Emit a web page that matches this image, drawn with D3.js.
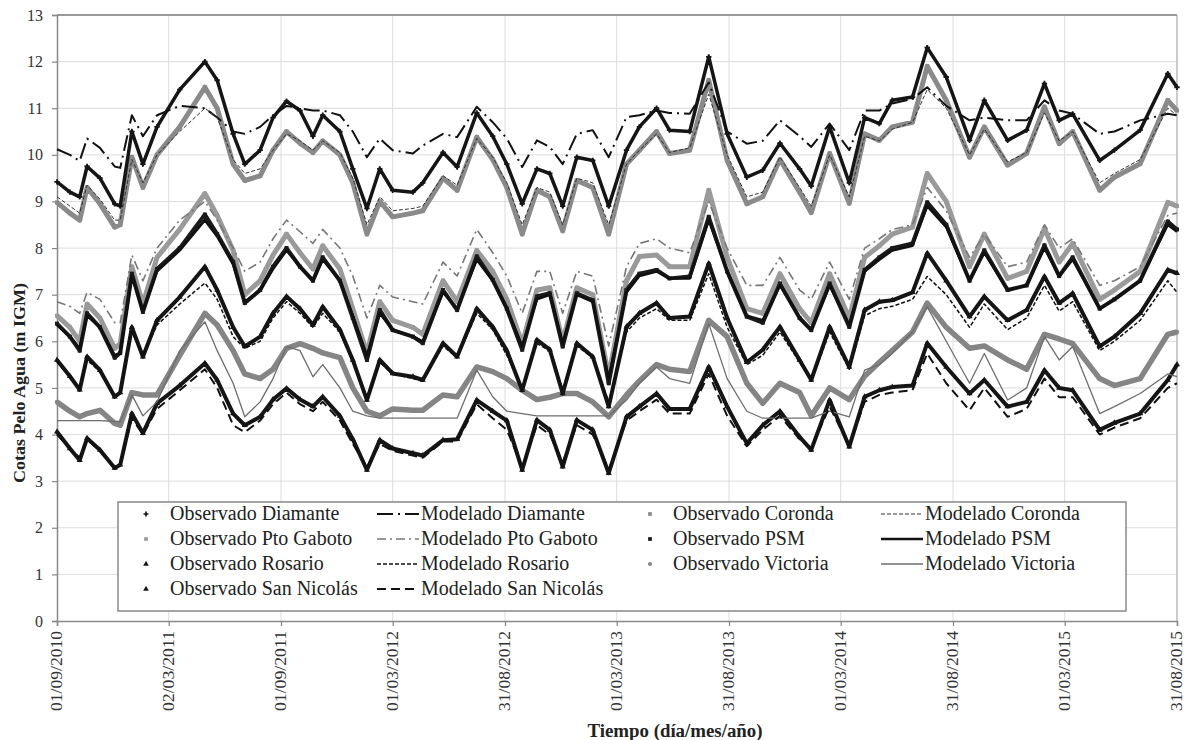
<!DOCTYPE html>
<html><head><meta charset="utf-8">
<script src="https://cdn.jsdelivr.net/npm/d3@7"></script>
<style>body{margin:0;background:#fff}svg{display:block}svg text{font-family:"Times New Roman",Times,"Liberation Serif",Tinos,"Noto Serif","DejaVu Serif",FreeSerif,serif}</style>
</head><body>
<svg id="c" width="1185" height="740"></svg>
<script>
// ---- DATA ----
const dates = ["2010-09-01","2010-09-22","2010-10-08","2010-10-20","2010-11-10","2010-12-04","2010-12-13","2011-01-01","2011-01-19","2011-02-11",
"2011-03-20","2011-04-30","2011-05-20","2011-06-15","2011-07-04","2011-07-29","2011-08-19","2011-09-10","2011-10-02","2011-10-23",
"2011-11-08","2011-12-06","2011-12-27","2012-01-19","2012-02-09","2012-03-01","2012-04-03","2012-04-19","2012-05-22","2012-06-14",
"2012-07-16","2012-08-11","2012-09-03","2012-09-28","2012-10-22","2012-11-12","2012-12-03","2012-12-26","2013-01-21","2013-02-16",
"2013-03-17","2013-04-07","2013-05-05","2013-05-26","2013-06-28","2013-07-29","2013-08-28","2013-09-29","2013-10-25","2013-11-22",
"2013-12-24","2014-01-12","2014-02-11","2014-03-15","2014-04-09","2014-05-03","2014-05-24","2014-06-26","2014-07-20","2014-08-20",
"2014-09-27","2014-10-21","2014-11-28","2014-12-29","2015-01-27","2015-02-20","2015-03-14","2015-04-27","2015-05-21","2015-07-02",
"2015-08-16","2015-08-31"];

const obsDiamante = [9.42,9.2,9.1,9.75,9.5,8.95,8.9,10.5,9.8,10.6,11.4,12.0,11.6,10.45,9.8,10.1,10.8,11.15,10.95,10.4,
10.85,10.5,9.7,8.85,9.7,9.24,9.2,9.4,10.05,9.74,10.9,10.4,9.8,8.95,9.7,9.6,8.9,9.95,9.88,8.9,
10.1,10.6,11.0,10.53,10.5,12.1,10.45,9.52,9.67,10.25,9.7,9.33,10.6,9.4,10.8,10.67,11.17,11.24,12.3,11.67,
10.31,11.17,10.31,10.53,11.53,10.74,10.88,9.88,10.1,10.53,11.74,11.45];
const modDiamante = [10.12,10.0,9.87,10.35,10.15,9.75,9.72,10.85,10.4,10.85,11.05,11.0,10.8,10.5,10.45,10.6,10.85,11.05,11.0,10.95,
10.95,10.85,10.5,9.95,10.35,10.1,10.03,10.2,10.45,10.38,11.03,10.7,10.35,9.74,10.31,10.17,9.8,10.45,10.53,9.95,
10.81,10.85,10.95,10.9,10.88,11.55,10.5,10.24,10.3,10.74,10.4,10.17,10.67,10.1,10.95,10.95,11.1,11.2,11.45,11.05,
10.74,10.8,10.74,10.74,11.17,10.95,10.88,10.45,10.5,10.74,10.88,10.85];
const obsCoronda = [8.98,8.75,8.6,9.3,8.95,8.45,8.5,9.95,9.3,10.0,10.6,11.45,11.0,9.8,9.45,9.55,10.1,10.5,10.25,10.05,
10.3,10.0,9.4,8.3,9.0,8.67,8.75,8.8,9.5,9.24,10.38,9.9,9.3,8.3,9.24,9.1,8.37,9.45,9.3,8.3,
9.8,10.1,10.5,10.03,10.1,11.6,9.88,8.95,9.1,9.9,9.2,8.76,10.03,8.96,10.45,10.31,10.6,10.7,11.9,11.17,
9.95,10.6,9.78,10.03,11.03,10.24,10.5,9.24,9.52,9.81,11.17,10.95];
const modCoronda = [9.1,8.9,8.75,9.35,9.05,8.6,8.6,9.9,9.4,10.0,10.5,11.0,10.8,9.9,9.6,9.7,10.1,10.45,10.3,10.1,
10.3,10.05,9.5,8.5,9.1,8.8,8.85,8.9,9.55,9.35,10.35,9.95,9.4,8.5,9.3,9.2,8.5,9.5,9.4,8.5,
9.8,10.1,10.45,10.05,10.15,11.3,10.0,9.1,9.2,9.95,9.3,8.9,10.0,9.1,10.4,10.3,10.55,10.7,11.4,11.0,
10.0,10.55,9.85,10.05,10.9,10.3,10.5,9.4,9.6,9.9,11.0,10.85];
const obsPtoGaboto = [6.55,6.3,6.0,6.8,6.5,5.85,5.95,7.6,6.8,7.8,8.4,9.17,8.7,7.95,7.0,7.3,7.85,8.3,7.9,7.55,
8.05,7.55,6.7,5.75,6.85,6.45,6.3,6.15,7.3,6.85,7.95,7.5,6.9,5.95,7.1,7.15,6.0,7.15,7.0,5.25,
7.3,7.82,7.85,7.6,7.6,9.24,7.8,6.7,6.6,7.45,6.7,6.4,7.45,6.5,7.8,8.05,8.3,8.45,9.6,9.0,
7.6,8.3,7.35,7.5,8.42,7.7,8.1,6.9,7.1,7.5,8.98,8.9];
const modPtoGaboto = [6.85,6.75,6.6,7.05,6.9,6.4,6.4,7.85,7.3,8.0,8.6,9.0,8.6,8.0,7.5,7.7,8.2,8.6,8.35,8.1,
8.4,8.0,7.4,6.5,7.2,6.95,6.85,6.8,7.7,7.4,8.4,7.9,7.4,6.6,7.5,7.5,6.6,7.5,7.4,5.9,
7.6,8.1,8.2,8.0,7.9,9.0,8.0,7.2,7.2,7.8,7.1,6.9,7.7,6.9,8.0,8.2,8.4,8.5,9.3,8.8,
7.8,8.3,7.6,7.7,8.5,8.0,8.2,7.2,7.3,7.6,8.7,8.75];
const obsPSM = [6.38,6.1,5.8,6.6,6.3,5.65,5.75,7.45,6.63,7.55,8.0,8.72,8.3,7.7,6.82,7.1,7.6,8.0,7.6,7.3,
7.8,7.3,6.5,5.6,6.67,6.24,6.1,5.96,7.1,6.67,7.82,7.32,6.7,5.82,6.96,7.03,5.89,7.03,6.88,5.1,
7.1,7.45,7.53,7.35,7.39,8.67,7.5,6.53,6.4,7.24,6.5,6.24,7.24,6.31,7.53,7.8,8.0,8.1,8.98,8.5,
7.3,7.95,7.1,7.2,8.06,7.4,7.8,6.7,6.9,7.3,8.57,8.4];
const modPSM = [6.35,6.1,5.85,6.55,6.3,5.7,5.75,7.4,6.65,7.5,7.95,8.6,8.25,7.65,6.85,7.1,7.55,7.95,7.6,7.3,
7.75,7.3,6.55,5.7,6.6,6.25,6.1,6.0,7.05,6.7,7.75,7.3,6.7,5.9,6.9,7.0,5.95,7.0,6.85,5.2,
7.05,7.4,7.5,7.35,7.35,8.6,7.5,6.55,6.45,7.2,6.5,6.25,7.2,6.35,7.5,7.75,7.95,8.05,8.9,8.45,
7.3,7.9,7.1,7.2,8.0,7.4,7.75,6.7,6.9,7.3,8.5,8.35];
const obsRosario = [5.6,5.25,4.96,5.67,5.38,4.81,4.9,6.3,5.67,6.45,6.95,7.6,7.1,6.3,5.89,6.1,6.6,6.96,6.7,6.35,
6.74,6.25,5.6,4.74,5.6,5.31,5.24,5.17,5.96,5.67,6.7,6.31,5.8,4.95,6.03,5.82,4.88,5.96,5.67,4.6,
6.31,6.6,6.82,6.5,6.53,7.67,6.5,5.55,5.82,6.31,5.6,5.17,6.31,5.45,6.67,6.85,6.88,7.05,7.89,7.3,
6.53,6.96,6.45,6.67,7.39,6.82,7.03,5.89,6.1,6.6,7.53,7.46];
const modRosario = [5.55,5.25,5.0,5.6,5.35,4.85,4.9,6.2,5.7,6.35,6.8,7.25,6.9,6.1,5.85,6.0,6.5,6.85,6.6,6.3,
6.6,6.2,5.55,4.8,5.55,5.3,5.2,5.15,5.9,5.65,6.6,6.25,5.7,5.0,5.95,5.8,4.95,5.9,5.65,4.7,
6.2,6.5,6.7,6.45,6.45,7.45,6.3,5.5,5.7,6.2,5.55,5.15,6.2,5.4,6.55,6.7,6.75,6.9,7.39,7.0,
6.3,6.8,6.25,6.5,7.2,6.65,6.85,5.8,6.0,6.45,7.3,7.05];
const obsVictoria = [4.7,4.5,4.38,4.45,4.52,4.24,4.2,4.9,4.85,4.85,5.7,6.6,6.35,5.8,5.3,5.2,5.4,5.85,5.95,5.85,
5.75,5.65,5.0,4.5,4.4,4.55,4.52,4.52,4.85,4.81,5.45,5.35,5.2,4.95,4.75,4.8,4.88,4.88,4.7,4.38,
4.85,5.15,5.5,5.4,5.35,6.45,6.1,5.1,4.67,5.1,4.9,4.4,5.0,4.75,5.25,5.55,5.8,6.2,6.82,6.3,
5.85,5.9,5.6,5.4,6.15,6.05,5.95,5.2,5.05,5.2,6.15,6.2];
const modVictoria = [4.3,4.3,4.3,4.3,4.3,4.28,4.28,4.85,4.4,4.7,5.8,6.42,5.8,5.1,4.38,4.7,5.2,5.89,5.8,5.24,
5.5,5.0,4.5,4.4,4.35,4.35,4.35,4.35,4.35,4.35,5.38,4.81,4.5,4.45,4.4,4.4,4.4,4.4,4.4,4.4,
4.74,5.1,5.45,5.2,5.1,6.38,5.2,4.5,4.35,4.35,4.35,4.35,4.5,4.38,5.38,5.5,5.74,6.2,6.74,6.0,
5.1,5.74,4.74,5.0,6.1,5.6,5.89,4.45,4.6,4.88,5.3,5.24];
const obsSanNicolas = [4.06,3.7,3.45,3.92,3.67,3.28,3.35,4.45,4.03,4.67,5.05,5.53,5.17,4.45,4.2,4.38,4.75,4.99,4.75,4.6,
4.81,4.4,3.9,3.24,3.88,3.7,3.6,3.55,3.88,3.9,4.74,4.5,4.3,3.24,4.31,4.1,3.31,4.31,4.1,3.17,
4.38,4.6,4.88,4.55,4.55,5.45,4.6,3.81,4.2,4.5,3.95,3.67,4.74,3.74,4.81,4.95,5.02,5.05,5.96,5.45,
4.88,5.17,4.6,4.7,5.38,5.0,4.95,4.1,4.25,4.45,5.17,5.5];
const modSanNicolas = [4.0,3.7,3.5,3.9,3.65,3.3,3.35,4.35,4.0,4.55,4.95,5.4,5.0,4.2,4.05,4.3,4.65,4.9,4.65,4.5,
4.7,4.3,3.8,3.3,3.8,3.65,3.55,3.5,3.85,3.85,4.65,4.35,4.1,3.3,4.2,4.0,3.4,4.2,4.0,3.25,
4.3,4.5,4.75,4.45,4.45,5.3,4.4,3.75,4.1,4.4,3.9,3.7,4.6,3.75,4.7,4.85,4.9,4.95,5.74,5.1,
4.52,5.0,4.38,4.55,5.2,4.8,4.8,4.0,4.15,4.35,5.0,5.1];

const tickDates = ["2010-09-01","2011-03-02","2011-09-01","2012-03-01","2012-08-31","2013-03-01","2013-08-31","2014-03-01","2014-08-31","2015-03-01","2015-08-31"];
const yTicks = [0,1,2,3,4,5,6,7,8,9,10,11,12,13];
const yTitle = "Cotas Pelo Agua (m IGM)";
const xTitle = "Tiempo (día/mes/año)";

// ---- CHART ----
const parse = d3.timeParse("%Y-%m-%d");
const svg = d3.select("#c");
const L = 57, R = 1177, T = 15, B = 621;
const x = d3.scaleTime().domain([parse("2010-09-01"), parse("2015-08-31")]).range([L, R]);
const y = d3.scaleLinear().domain([0, 13]).range([B, T]);

// gridlines
const g = svg.append("g");
g.selectAll("line.h").data(yTicks.slice(1, -1)).join("line")
  .attr("x1", L).attr("x2", R).attr("y1", d => y(d)).attr("y2", d => y(d))
  .attr("stroke", "#dcdcdc").attr("stroke-width", 1);
g.selectAll("line.v").data(tickDates.slice(1, -1)).join("line")
  .attr("x1", d => x(parse(d))).attr("x2", d => x(parse(d))).attr("y1", T).attr("y2", B)
  .attr("stroke", "#dcdcdc").attr("stroke-width", 1);
// frame top/right
svg.append("line").attr("x1", L).attr("x2", R).attr("y1", T).attr("y2", T).attr("stroke", "#999").attr("stroke-width", 2);
svg.append("line").attr("x1", R).attr("x2", R).attr("y1", T).attr("y2", B).attr("stroke", "#aaa").attr("stroke-width", 1.2);

// axes
const yAxis = svg.append("g").attr("transform", `translate(${L},0)`)
  .call(d3.axisLeft(y).tickValues(yTicks).tickSize(5).tickPadding(9).tickFormat(d3.format("d")));
const xAxis = svg.append("g").attr("transform", `translate(0,${B})`)
  .call(d3.axisBottom(x).tickValues(tickDates.map(parse)).tickSize(5).tickFormat(d3.timeFormat("%d/%m/%Y")));
[yAxis, xAxis].forEach(a => {
  a.attr("font-family", null);
  a.select(".domain").attr("stroke", "#888").attr("stroke-width", 1.5);
  a.selectAll(".tick line").attr("stroke", "#888").attr("stroke-width", 1.2);
  a.selectAll("text").attr("fill", "#333");
});
yAxis.selectAll("text").attr("font-size", 16);
xAxis.selectAll("text").attr("font-size", 16)
  .attr("transform", "rotate(-90)").attr("text-anchor", "end")
  .attr("x", -10).attr("y", -1).attr("dy", "0.35em")
  .attr("textLength", 80).attr("lengthAdjust", "spacingAndGlyphs");

// titles
svg.append("text").attr("transform", "translate(25,383) rotate(-90)").attr("text-anchor", "middle")
  .attr("font-weight", "bold").attr("font-size", 17).attr("fill", "#222")
  .attr("textLength", 200).attr("lengthAdjust", "spacingAndGlyphs").text(yTitle);
svg.append("text").attr("x", 675).attr("y", 737).attr("text-anchor", "middle")
  .attr("font-weight", "bold").attr("font-size", 18).attr("fill", "#222")
  .attr("textLength", 175).attr("lengthAdjust", "spacingAndGlyphs").text(xTitle);

// series definitions
const mk = arr => dates.map((d, i) => ({date: parse(d), v: arr[i]}));
const observed = [
  {name: "Observado Victoria", data: mk(obsVictoria), color: "#858585", w: 5.5, sym: d3.symbolCircle, size: 8},
  {name: "Observado Coronda", data: mk(obsCoronda), color: "#8a8a8a", w: 5, sym: d3.symbolSquare, size: 8},
  {name: "Observado Pto Gaboto", data: mk(obsPtoGaboto), color: "#9a9a9a", w: 5, sym: d3.symbolSquare, size: 8},
  {name: "Observado Diamante", data: mk(obsDiamante), color: "#151515", w: 3.5, sym: d3.symbolCross, size: 8},
  {name: "Observado PSM", data: mk(obsPSM), color: "#1a1a1a", w: 4, sym: d3.symbolSquare, size: 8},
  {name: "Observado Rosario", data: mk(obsRosario), color: "#151515", w: 4, sym: d3.symbolTriangle, size: 8},
  {name: "Observado San Nicolás", data: mk(obsSanNicolas), color: "#151515", w: 4, sym: d3.symbolTriangle, size: 8}
];
const modeled = [
  {name: "Modelado Diamante", data: mk(modDiamante), color: "#111", w: 2, dash: "16,5,2,5"},
  {name: "Modelado Coronda", data: mk(modCoronda), color: "#333", w: 1, dash: "4,2"},
  {name: "Modelado Pto Gaboto", data: mk(modPtoGaboto), color: "#777", w: 1.6, dash: "9,4,2,4"},
  {name: "Modelado PSM", data: mk(modPSM), color: "#111", w: 2.6, dash: null},
  {name: "Modelado Rosario", data: mk(modRosario), color: "#111", w: 1.5, dash: "4,2"},
  {name: "Modelado Victoria", data: mk(modVictoria), color: "#6e6e6e", w: 1.3, dash: null},
  {name: "Modelado San Nicolás", data: mk(modSanNicolas), color: "#111", w: 2, dash: "9,5"}
];
const line = d3.line().x(d => x(d.date)).y(d => y(d.v));
const plot = svg.append("g");
observed.forEach(s => {
  plot.append("path").attr("d", line(s.data)).attr("fill", "none")
    .attr("stroke", s.color).attr("stroke-width", s.w).attr("stroke-linejoin", "round");
  plot.append("g").selectAll("path").data(s.data).join("path")
    .attr("transform", d => `translate(${x(d.date)},${y(d.v)})`)
    .attr("d", d3.symbol().type(s.sym).size(s.size * 2)).attr("fill", s.color);
});
modeled.forEach(s => {
  plot.append("path").attr("d", line(s.data)).attr("fill", "none")
    .attr("stroke", s.color).attr("stroke-width", s.w)
    .attr("stroke-dasharray", s.dash).attr("stroke-linejoin", "round");
});

// legend
const lg = svg.append("g");
lg.append("rect").attr("x", 118).attr("y", 502).attr("width", 1008).attr("height", 109)
  .attr("fill", "#fff").attr("stroke", "#888").attr("stroke-width", 1.5);
const colSym = [146, 377, 650, 881];
const colText = [170, 421, 673, 925];
const rowY = [520, 545, 570, 595];
const entries = [];
const obsByName = n => observed.find(s => s.name === n);
const modByName = n => modeled.find(s => s.name === n);
[["Diamante", "Coronda"], ["Pto Gaboto", "PSM"], ["Rosario", "Victoria"], ["San Nicolás", null]].forEach((row, r) => {
  row.forEach((st, k) => {
    if (!st) return;
    entries.push({col: k * 2, row: r, s: obsByName("Observado " + st), obs: true});
    entries.push({col: k * 2 + 1, row: r, s: modByName("Modelado " + st), obs: false});
  });
});
entries.forEach(e => {
  const cy = rowY[e.row] - 6;
  if (e.obs) {
    lg.append("path").attr("transform", `translate(${colSym[e.col]},${cy})`)
      .attr("d", d3.symbol().type(e.s.sym).size(14)).attr("fill", e.s.color);
  } else {
    lg.append("line").attr("x1", colSym[e.col]).attr("x2", colSym[e.col] + 42)
      .attr("y1", cy).attr("y2", cy).attr("stroke", e.s.color)
      .attr("stroke-width", Math.max(e.s.w, 1.2)).attr("stroke-dasharray", e.s.dash);
  }
  lg.append("text").attr("x", colText[e.col]).attr("y", rowY[e.row])
    .attr("font-size", 20).attr("fill", "#222").text(e.s.name);
});
</script>
</body></html>
